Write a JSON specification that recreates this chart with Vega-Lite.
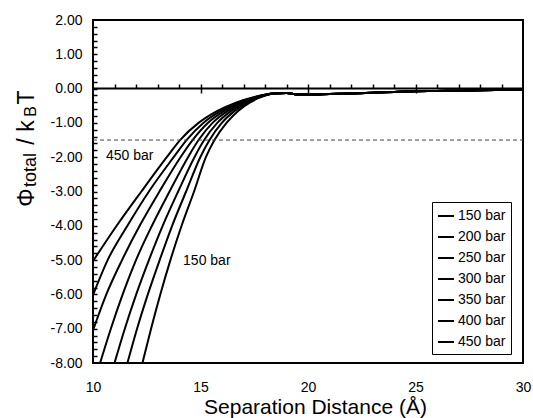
{
"$schema": "https://vega.github.io/schema/vega-lite/v6.json",
"width": 430, "height": 343,
"autosize": {"type": "none"},
"padding": {"left": 93, "top": 20, "right": 10, "bottom": 55},
"config": {
 "font": "Liberation Sans",
 "view": {"stroke": "black", "strokeWidth": 2},
 "axis": {"grid": false, "domain": false, "labelColor": "black", "titleColor": "black", "tickColor": "black", "labelFont": "Liberation Sans", "titleFont": "Liberation Sans", "titleFontWeight": "normal"}
},
"resolve": {"axis": {"x": "independent", "y": "independent"}},
"layer": [
 {
  "data": {"values": [
{"s":"450 bar","x":10,"y":-5.03},{"s":"450 bar","x":11.1,"y":-4},{"s":"450 bar","x":12.25,"y":-3},{"s":"450 bar","x":13.43,"y":-2},{"s":"450 bar","x":14.05,"y":-1.5},{"s":"450 bar","x":14.91,"y":-1},{"s":"450 bar","x":15.79,"y":-0.65},{"s":"450 bar","x":16.68,"y":-0.4},{"s":"450 bar","x":17.47,"y":-0.25},{"s":"450 bar","x":18.4,"y":-0.14},
{"s":"450 bar","x":19,"y":-0.13},{"s":"450 bar","x":19.5,"y":-0.17},{"s":"450 bar","x":20,"y":-0.17},{"s":"450 bar","x":21,"y":-0.155},{"s":"450 bar","x":22,"y":-0.14},{"s":"450 bar","x":23,"y":-0.12},{"s":"450 bar","x":24,"y":-0.1},{"s":"450 bar","x":25,"y":-0.08},{"s":"450 bar","x":26,"y":-0.07},{"s":"450 bar","x":27,"y":-0.06},{"s":"450 bar","x":28,"y":-0.045},{"s":"450 bar","x":29,"y":-0.035},{"s":"450 bar","x":30,"y":-0.03},
{"s":"400 bar","x":10,"y":-6.02},{"s":"400 bar","x":10.68,"y":-5},{"s":"400 bar","x":11.6,"y":-4},{"s":"400 bar","x":12.6,"y":-3},{"s":"400 bar","x":13.75,"y":-2},{"s":"400 bar","x":14.35,"y":-1.5},{"s":"400 bar","x":15.13,"y":-1},{"s":"400 bar","x":15.95,"y":-0.65},{"s":"400 bar","x":16.79,"y":-0.4},{"s":"400 bar","x":17.53,"y":-0.25},{"s":"400 bar","x":18.4,"y":-0.14},
{"s":"400 bar","x":19,"y":-0.13},{"s":"400 bar","x":19.5,"y":-0.17},{"s":"400 bar","x":20,"y":-0.17},{"s":"400 bar","x":21,"y":-0.155},{"s":"400 bar","x":22,"y":-0.14},{"s":"400 bar","x":23,"y":-0.12},{"s":"400 bar","x":24,"y":-0.1},{"s":"400 bar","x":25,"y":-0.08},{"s":"400 bar","x":26,"y":-0.07},{"s":"400 bar","x":27,"y":-0.06},{"s":"400 bar","x":28,"y":-0.045},{"s":"400 bar","x":29,"y":-0.035},{"s":"400 bar","x":30,"y":-0.03},
{"s":"350 bar","x":10,"y":-7.05},{"s":"350 bar","x":10.62,"y":-6},{"s":"350 bar","x":11.35,"y":-5},{"s":"350 bar","x":12.17,"y":-4},{"s":"350 bar","x":13.09,"y":-3},{"s":"350 bar","x":14.07,"y":-2},{"s":"350 bar","x":14.63,"y":-1.5},{"s":"350 bar","x":15.34,"y":-1},{"s":"350 bar","x":16.11,"y":-0.65},{"s":"350 bar","x":16.89,"y":-0.4},{"s":"350 bar","x":17.58,"y":-0.25},{"s":"350 bar","x":18.4,"y":-0.14},
{"s":"350 bar","x":19,"y":-0.13},{"s":"350 bar","x":19.5,"y":-0.17},{"s":"350 bar","x":20,"y":-0.17},{"s":"350 bar","x":21,"y":-0.155},{"s":"350 bar","x":22,"y":-0.14},{"s":"350 bar","x":23,"y":-0.12},{"s":"350 bar","x":24,"y":-0.1},{"s":"350 bar","x":25,"y":-0.08},{"s":"350 bar","x":26,"y":-0.07},{"s":"350 bar","x":27,"y":-0.06},{"s":"350 bar","x":28,"y":-0.045},{"s":"350 bar","x":29,"y":-0.035},{"s":"350 bar","x":30,"y":-0.03},
{"s":"300 bar","x":10.33,"y":-8},{"s":"300 bar","x":10.83,"y":-7},{"s":"300 bar","x":11.38,"y":-6},{"s":"300 bar","x":12,"y":-5},{"s":"300 bar","x":12.74,"y":-4},{"s":"300 bar","x":13.56,"y":-3},{"s":"300 bar","x":14.42,"y":-2},{"s":"300 bar","x":14.91,"y":-1.5},{"s":"300 bar","x":15.56,"y":-1},{"s":"300 bar","x":16.27,"y":-0.65},{"s":"300 bar","x":17,"y":-0.4},{"s":"300 bar","x":17.64,"y":-0.25},{"s":"300 bar","x":18.4,"y":-0.14},
{"s":"300 bar","x":19,"y":-0.13},{"s":"300 bar","x":19.5,"y":-0.17},{"s":"300 bar","x":20,"y":-0.17},{"s":"300 bar","x":21,"y":-0.155},{"s":"300 bar","x":22,"y":-0.14},{"s":"300 bar","x":23,"y":-0.12},{"s":"300 bar","x":24,"y":-0.1},{"s":"300 bar","x":25,"y":-0.08},{"s":"300 bar","x":26,"y":-0.07},{"s":"300 bar","x":27,"y":-0.06},{"s":"300 bar","x":28,"y":-0.045},{"s":"300 bar","x":29,"y":-0.035},{"s":"300 bar","x":30,"y":-0.03},
{"s":"250 bar","x":11,"y":-8},{"s":"250 bar","x":11.48,"y":-7},{"s":"250 bar","x":12.01,"y":-6},{"s":"250 bar","x":12.6,"y":-5},{"s":"250 bar","x":13.24,"y":-4},{"s":"250 bar","x":13.96,"y":-3},{"s":"250 bar","x":14.72,"y":-2},{"s":"250 bar","x":15.17,"y":-1.5},{"s":"250 bar","x":15.78,"y":-1},{"s":"250 bar","x":16.43,"y":-0.65},{"s":"250 bar","x":17.1,"y":-0.4},{"s":"250 bar","x":17.7,"y":-0.25},{"s":"250 bar","x":18.4,"y":-0.14},
{"s":"250 bar","x":19,"y":-0.13},{"s":"250 bar","x":19.5,"y":-0.17},{"s":"250 bar","x":20,"y":-0.17},{"s":"250 bar","x":21,"y":-0.155},{"s":"250 bar","x":22,"y":-0.14},{"s":"250 bar","x":23,"y":-0.12},{"s":"250 bar","x":24,"y":-0.1},{"s":"250 bar","x":25,"y":-0.08},{"s":"250 bar","x":26,"y":-0.07},{"s":"250 bar","x":27,"y":-0.06},{"s":"250 bar","x":28,"y":-0.045},{"s":"250 bar","x":29,"y":-0.035},{"s":"250 bar","x":30,"y":-0.03},
{"s":"200 bar","x":11.6,"y":-8},{"s":"200 bar","x":12.05,"y":-7},{"s":"200 bar","x":12.55,"y":-6},{"s":"200 bar","x":13.1,"y":-5},{"s":"200 bar","x":13.68,"y":-4},{"s":"200 bar","x":14.33,"y":-3},{"s":"200 bar","x":14.99,"y":-2},{"s":"200 bar","x":15.42,"y":-1.5},{"s":"200 bar","x":15.99,"y":-1},{"s":"200 bar","x":16.59,"y":-0.65},{"s":"200 bar","x":17.21,"y":-0.4},{"s":"200 bar","x":17.75,"y":-0.25},{"s":"200 bar","x":18.4,"y":-0.14},
{"s":"200 bar","x":19,"y":-0.13},{"s":"200 bar","x":19.5,"y":-0.17},{"s":"200 bar","x":20,"y":-0.17},{"s":"200 bar","x":21,"y":-0.155},{"s":"200 bar","x":22,"y":-0.14},{"s":"200 bar","x":23,"y":-0.12},{"s":"200 bar","x":24,"y":-0.1},{"s":"200 bar","x":25,"y":-0.08},{"s":"200 bar","x":26,"y":-0.07},{"s":"200 bar","x":27,"y":-0.06},{"s":"200 bar","x":28,"y":-0.045},{"s":"200 bar","x":29,"y":-0.035},{"s":"200 bar","x":30,"y":-0.03},
{"s":"150 bar","x":12.3,"y":-8},{"s":"150 bar","x":12.7,"y":-7},{"s":"150 bar","x":13.13,"y":-6},{"s":"150 bar","x":13.6,"y":-5},{"s":"150 bar","x":14.12,"y":-4},{"s":"150 bar","x":14.7,"y":-3},{"s":"150 bar","x":15.25,"y":-2},{"s":"150 bar","x":15.65,"y":-1.5},{"s":"150 bar","x":16.21,"y":-1},{"s":"150 bar","x":16.75,"y":-0.65},{"s":"150 bar","x":17.31,"y":-0.4},{"s":"150 bar","x":17.81,"y":-0.25},{"s":"150 bar","x":18.4,"y":-0.14},
{"s":"150 bar","x":19,"y":-0.13},{"s":"150 bar","x":19.5,"y":-0.17},{"s":"150 bar","x":20,"y":-0.17},{"s":"150 bar","x":21,"y":-0.155},{"s":"150 bar","x":22,"y":-0.14},{"s":"150 bar","x":23,"y":-0.12},{"s":"150 bar","x":24,"y":-0.1},{"s":"150 bar","x":25,"y":-0.08},{"s":"150 bar","x":26,"y":-0.07},{"s":"150 bar","x":27,"y":-0.06},{"s":"150 bar","x":28,"y":-0.045},{"s":"150 bar","x":29,"y":-0.035},{"s":"150 bar","x":30,"y":-0.03}
  ]},
  "mark": {"type": "line", "strokeWidth": 2, "interpolate": "monotone", "clip": true},
  "encoding": {
   "x": {"field": "x", "type": "quantitative", "scale": {"domain": [10, 30], "nice": false, "zero": false},
    "axis": {"orient": "bottom", "values": [10, 15, 20, 25, 30], "ticks": false, "tickSize": 0, "labelPadding": 17, "labelFontSize": 14, "labelFlush": false,
     "title": "Separation Distance (Å)", "titleFontSize": 21, "titleX": 222, "titleY": 50, "titleAlign": "center", "titleBaseline": "alphabetic"}},
   "y": {"field": "y", "type": "quantitative", "scale": {"domain": [-8, 2], "nice": false, "zero": false},
    "axis": {"orient": "left", "values": [-8, -7, -6, -5, -4, -3, -2, -1, 0, 1, 2], "labelExpr": "replace(format(datum.value, '.2f'), '\u2212', '-')", "ticks": false, "tickSize": 0, "labelPadding": 11, "labelFontSize": 14, "labelFlush": false,
     "title": "Φ", "titleFontSize": 23, "titleAngle": 270, "titleX": -60, "titleY": 177, "titleAlign": "center", "titleBaseline": "alphabetic"}},
   "color": {"field": "s", "type": "nominal",
    "scale": {"range": ["black", "black", "black", "black", "black", "black", "black"]},
    "legend": {"title": null, "orient": "none", "legendX": 339, "legendY": 182, "strokeColor": "black", "fillColor": "white", "padding": 5,
     "symbolType": "stroke", "symbolSize": 256, "symbolStrokeWidth": 2, "labelFontSize": 14, "labelColor": "black", "labelOffset": 3, "rowPadding": 5}}
  }
 },
 {
  "data": {"values": [{"x": 10, "x2": 30, "y": 0}]},
  "mark": {"type": "rule", "strokeWidth": 2, "color": "black"},
  "encoding": {
   "x": {"field": "x", "type": "quantitative", "scale": {"domain": [10, 30], "nice": false, "zero": false},
    "axis": {"orient": "top", "offset": -68, "values": [11,12,13,14,15,16,17,18,19,20,21,22,23,24,25,26,27,28,29], "labels": false, "tickSize": 4, "tickWidth": 1.5, "title": null}},
   "x2": {"field": "x2"},
   "y": {"field": "y", "type": "quantitative", "scale": {"domain": [-8, 2], "nice": false, "zero": false},
    "axis": {"orient": "right", "offset": -430, "values": [-7.8,-7.6,-7.4,-7.2,-7,-6.8,-6.6,-6.4,-6.2,-6,-5.8,-5.6,-5.4,-5.2,-5,-4.8,-4.6,-4.4,-4.2,-4,-3.8,-3.6,-3.4,-3.2,-3,-2.8,-2.6,-2.4,-2.2,-2,-1.8,-1.6,-1.4,-1.2,-1,-0.8,-0.6,-0.4,-0.2,0,0.2,0.4,0.6,0.8,1,1.2,1.4,1.6,1.8], "labels": false, "tickSize": 4, "tickWidth": 1.5,
     "title": "total", "titleFontSize": 18, "titleAngle": 270, "titleX": -58, "titleY": 149.5, "titleAlign": "center", "titleBaseline": "alphabetic"}}
  }
 },
 {
  "data": {"values": [{"x": 10, "x2": 30, "y": -1.5}]},
  "mark": {"type": "rule", "strokeWidth": 1, "color": "#444444", "strokeDash": [4, 3]},
  "encoding": {
   "x": {"field": "x", "type": "quantitative", "scale": {"domain": [10, 30], "nice": false, "zero": false},
    "axis": {"orient": "bottom", "offset": -275, "values": [15, 20, 25], "labels": false, "tickSize": 5, "tickWidth": 1.5, "title": null}},
   "x2": {"field": "x2"},
   "y": {"field": "y", "type": "quantitative", "scale": {"domain": [-8, 2], "nice": false, "zero": false},
    "axis": {"orient": "left", "labels": false, "ticks": false,
     "title": "/ k", "titleFontSize": 23, "titleAngle": 270, "titleX": -60, "titleY": 112, "titleAlign": "center", "titleBaseline": "alphabetic"}}
  }
 },
 {
  "data": {"values": [{"x": 10.6, "y": -1.97, "label": "450 bar"}]},
  "mark": {"type": "text", "align": "left", "baseline": "middle", "fontSize": 14, "color": "black"},
  "encoding": {
   "x": {"field": "x", "type": "quantitative", "scale": {"domain": [10, 30], "nice": false, "zero": false}, "axis": null},
   "y": {"field": "y", "type": "quantitative", "scale": {"domain": [-8, 2], "nice": false, "zero": false},
    "axis": {"orient": "left", "labels": false, "ticks": false,
     "title": "B", "titleFontSize": 16, "titleAngle": 270, "titleX": -58, "titleY": 91, "titleAlign": "center", "titleBaseline": "alphabetic"}},
   "text": {"field": "label"}
  }
 },
 {
  "data": {"values": [{"x": 14.19, "y": -5.03, "label": "150 bar"}]},
  "mark": {"type": "text", "align": "left", "baseline": "middle", "fontSize": 14, "color": "black"},
  "encoding": {
   "x": {"field": "x", "type": "quantitative", "scale": {"domain": [10, 30], "nice": false, "zero": false}, "axis": null},
   "y": {"field": "y", "type": "quantitative", "scale": {"domain": [-8, 2], "nice": false, "zero": false},
    "axis": {"orient": "left", "labels": false, "ticks": false,
     "title": "T", "titleFontSize": 23, "titleAngle": 270, "titleX": -60, "titleY": 77, "titleAlign": "center", "titleBaseline": "alphabetic"}},
   "text": {"field": "label"}
  }
 }
]
}
